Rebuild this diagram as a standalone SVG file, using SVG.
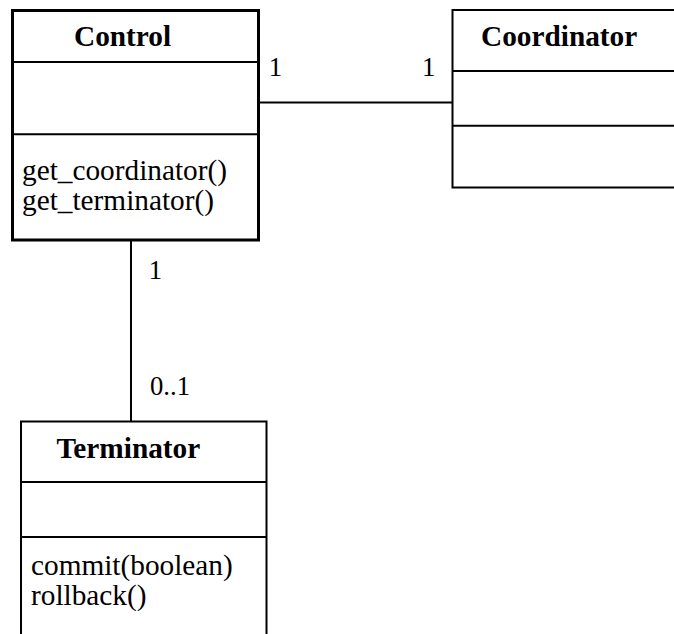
<svg xmlns="http://www.w3.org/2000/svg" width="674" height="634" viewBox="0 0 674 634">
<style>
  .box { fill: #fff; stroke: #000; stroke-width: 2; }
  .thick { stroke-width: 3; }
  .div { stroke: #000; stroke-width: 2; }
  .conn { stroke: #000; stroke-width: 2; fill: none; }
  text { font-family: 'Liberation Serif', 'Times New Roman', Times, serif; fill: #000; }
  .title { font-weight: bold; font-size: 29.3px; }
  .op { font-size: 29.3px; }
  .mult { font-size: 26.7px; }
</style>
<rect width="674" height="634" fill="#fff"/>
<g id="connectors">
  <line class="conn" x1="260" y1="102.5" x2="452" y2="102.5"/>
  <line class="conn" x1="131" y1="241" x2="131" y2="421"/>
  <text class="mult" x="268.7" y="76" font-family="Liberation Serif, serif">1</text>
  <text class="mult" x="422" y="76" font-family="Liberation Serif, serif">1</text>
  <text class="mult" x="148.7" y="279" font-family="Liberation Serif, serif">1</text>
  <text class="mult" x="150" y="395" font-family="Liberation Serif, serif">0..1</text>
</g>
<g id="control">
  <rect class="box thick" x="12.5" y="10.5" width="246" height="229.5"/>
  <line class="div" x1="12.5" y1="62" x2="258.5" y2="62"/>
  <line class="div" x1="12.5" y1="134.3" x2="258.5" y2="134.3"/>
  <text class="title" x="74" y="46" font-family="Liberation Serif, serif">Control</text>
  <text class="op" x="22" y="180" font-family="Liberation Serif, serif">get_coordinator()</text>
  <text class="op" x="22" y="210" font-family="Liberation Serif, serif">get_terminator()</text>
</g>
<g id="coordinator">
  <rect class="box" x="452.5" y="10" width="240" height="177.5"/>
  <line class="div" x1="452.5" y1="71" x2="674" y2="71"/>
  <line class="div" x1="452.5" y1="125.7" x2="674" y2="125.7"/>
  <text class="title" x="481" y="45.5" font-family="Liberation Serif, serif">Coordinator</text>
</g>
<g id="terminator">
  <rect class="box" x="21" y="421.5" width="245.5" height="230"/>
  <line class="div" x1="21" y1="482" x2="266.5" y2="482"/>
  <line class="div" x1="21" y1="537" x2="266.5" y2="537"/>
  <text class="title" x="56.5" y="458" font-family="Liberation Serif, serif">Terminator</text>
  <text class="op" x="31" y="575" font-family="Liberation Serif, serif">commit(boolean)</text>
  <text class="op" x="31" y="605" font-family="Liberation Serif, serif">rollback()</text>
</g>
</svg>
